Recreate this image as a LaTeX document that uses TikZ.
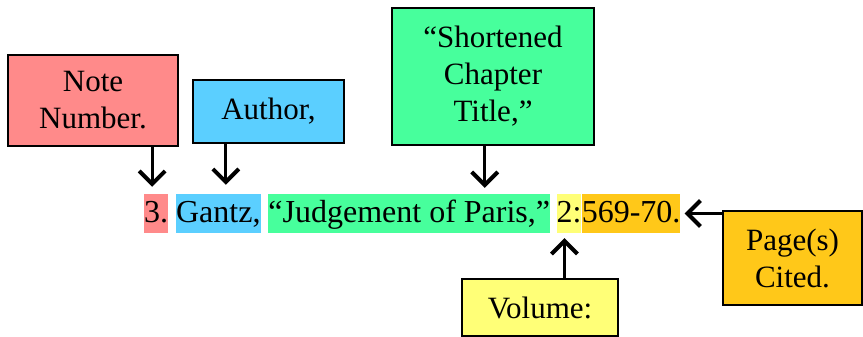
\documentclass[tikz,border=0pt]{standalone}
\usepackage{fontspec}
\setmainfont{Liberation Serif}
\usetikzlibrary{positioning,arrows.meta}
\definecolor{notered}{HTML}{FF8A8A}
\definecolor{authblue}{HTML}{5BCFFF}
\definecolor{titlegreen}{HTML}{47FF9C}
\definecolor{volyellow}{HTML}{FFFF77}
\definecolor{pageorange}{HTML}{FFC819}
\begin{document}
\begin{tikzpicture}[x=1pt,y=1pt,
  lbl/.style={draw,line width=1.5pt,align=center,inner sep=0pt,font=\fontsize{31}{37}\selectfont},
  hl/.style={inner xsep=0pt,inner ysep=0pt,text height=29pt,text depth=10pt,font=\fontsize{32}{38}\selectfont},
  pt/.style={line width=3pt,-{Straight Barb[length=13pt,width=26pt,line width=1pt 1]}}]
\useasboundingbox (0,0) rectangle (863,337);
% the citation, piece by piece
\node[hl,fill=notered,anchor=base west] (num) at (144,114) {3.};
\node[hl,fill=authblue,right=7.5pt of num] (gantz) {Gantz,};
\node[hl,fill=titlegreen,right=7.5pt of gantz] (judg) {``Judgement of Paris,''};
\node[hl,fill=volyellow,right=6pt of judg] (vol2) {2:};
\node[hl,fill=pageorange,right=0pt of vol2] (pg) {569-70.};
% the labels
\node[lbl,fill=notered,minimum width=170pt,minimum height=91pt] (note) at (93,236.5) {Note\\Number.};
\node[lbl,fill=authblue,minimum width=151pt,minimum height=63pt] (author) at (268.5,225.5) {Author,};
\node[lbl,fill=titlegreen,minimum width=202pt,minimum height=137pt] (title) at (493,260.5) {``Shortened\\Chapter\\Title,''};
\node[lbl,fill=volyellow,minimum width=156pt,minimum height=57pt] (volume) at (540,29.5) {Volume:};
\node[lbl,fill=pageorange,minimum width=139pt,minimum height=94pt] (pages) at (792.5,79) {Page(s)\\Cited.};
% arrow tips
\path ([xshift=-4pt,yshift=7pt]num.north) coordinate (a1)
      ([xshift=7.5pt,yshift=9pt]gantz.north) coordinate (a2)
      ([xshift=75.5pt,yshift=6pt]judg.north) coordinate (a3)
      ([xshift=-4.5pt,yshift=-5pt]vol2.south) coordinate (a4)
      ([xshift=4pt]pg.east) coordinate (a5);
\draw[pt] (note.south -| a1) -- (a1);
\draw[pt] (author.south -| a2) -- (a2);
\draw[pt] (title.south -| a3) -- (a3);
\draw[pt] (volume.north -| a4) -- (a4);
\draw[pt] (pages.west |- a5) -- (a5);
\end{tikzpicture}
\end{document}
